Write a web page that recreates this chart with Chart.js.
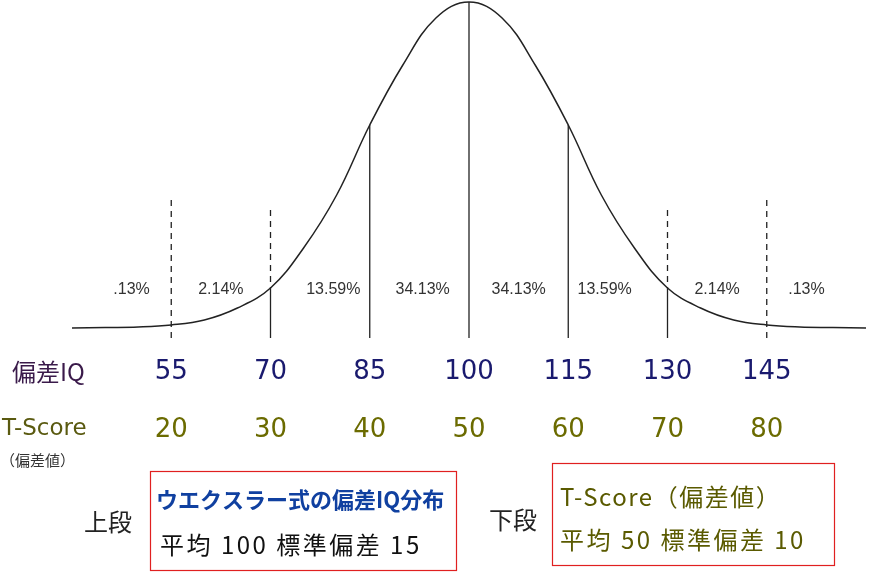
<!DOCTYPE html>
<html><head><meta charset="utf-8">
<script src="https://cdn.jsdelivr.net/npm/chart.js@4"></script>
<style>html,body{margin:0;padding:0;background:#fff}#c{display:block}</style>
</head><body>
<div style="width:870px;height:572px"><canvas id="c"></canvas></div>
<script>
/* Datos de la curva (偏差IQ y altura) */
var iqValues = [40,45,50,55,60,65,70,75,80,85,90,95,100,105,110,115,120,125,130,135,140,145,150,155,160];
var curveHeights = [2,2.5,3,5,10,22,42,82,135,205,265,312,328,312,265,205,135,82,42,22,10,5,3,2.5,2];
var iqTicks = [55,70,85,100,115,130,145];
var tScoreTicks = [20,30,40,50,60,70,80];
var solidLines = [70,85,100,115,130];
var dashedLines = [55,70,130,145];
var dashedTops = [130,120,120,130];
var pctLabels = ['.13%','2.14%','13.59%','34.13%','34.13%','13.59%','2.14%','.13%'];
var pctCenters = [49,62.5,79.5,93,107.5,120.5,137.5,151];

function curveAt(iq) {
    return curveHeights[iqValues.indexOf(iq)];
}

function spacedText(ctx, t, x, y, sp) {
    ctx.letterSpacing = sp + 'px';
    ctx.fillText(t, x, y);
    ctx.letterSpacing = '0px';
}

var overlay = {
    id: 'overlay',
    afterDatasetsDraw: function (chart) {
        var ctx = chart.ctx, x = chart.scales.x, y = chart.scales.y;
        ctx.save();
        ctx.strokeStyle = '#222';
        ctx.lineWidth = 1.3;
        /* líneas verticales sólidas hasta la curva */
        solidLines.forEach(function (v) {
            ctx.beginPath();
            ctx.moveTo(x.getPixelForValue(v), y.getPixelForValue(-8));
            ctx.lineTo(x.getPixelForValue(v), y.getPixelForValue(curveAt(v)));
            ctx.stroke();
        });
        /* líneas discontinuas */
        ctx.setLineDash([6, 5]);
        dashedLines.forEach(function (v, i) {
            var bottom = solidLines.indexOf(v) >= 0 ? curveAt(v) : -8;
            ctx.beginPath();
            ctx.moveTo(x.getPixelForValue(v), y.getPixelForValue(dashedTops[i]));
            ctx.lineTo(x.getPixelForValue(v), y.getPixelForValue(bottom));
            ctx.stroke();
        });
        ctx.setLineDash([]);
        ctx.textAlign = 'center';
        ctx.textBaseline = 'middle';
        ctx.fillStyle = '#333';
        ctx.font = '16px Arial, "Liberation Sans"';
        pctLabels.forEach(function (t, i) {
            ctx.fillText(t, x.getPixelForValue(pctCenters[i]), y.getPixelForValue(40));
        });
        /* filas de valores */
        ctx.font = '26px "DejaVu Sans"';
        ctx.fillStyle = '#1a1a6e';
        iqTicks.forEach(function (v) {
            ctx.fillText(String(v), x.getPixelForValue(v), y.getPixelForValue(-42));
        });
        ctx.fillStyle = '#6b6b00';
        tScoreTicks.forEach(function (v, i) {
            ctx.fillText(String(v), x.getPixelForValue(iqTicks[i]), y.getPixelForValue(-100));
        });
        ctx.textAlign = 'left';
        ctx.font = '24px "Noto Sans CJK JP"';
        ctx.fillStyle = '#3a1a4a';
        ctx.fillText('偏差IQ', 12, 372);
        ctx.fillStyle = '#5a5a10';
        ctx.font = '23px "DejaVu Sans"';
        ctx.fillText('T-Score', 2, 429);
        ctx.fillStyle = '#333';
        ctx.font = '15px "Noto Sans CJK JP"';
        ctx.fillText('（偏差値）', 0, 460);
        ctx.font = '24px "Noto Sans CJK JP"';
        ctx.fillStyle = '#222';
        ctx.fillText('上段', 84, 522);
        ctx.fillText('下段', 489, 520);
        /* recuadros */
        ctx.strokeStyle = '#e02020';
        ctx.lineWidth = 1.2;
        ctx.strokeRect(150.5, 471.5, 306, 99);
        ctx.strokeRect(552.5, 463.5, 282, 102);
        ctx.fillStyle = '#1040a0';
        ctx.font = 'bold 22px "Noto Sans CJK JP"';
        ctx.fillText('ウエクスラー式の偏差IQ分布', 156, 500);
        ctx.fillStyle = '#111';
        ctx.font = '24px "Noto Sans CJK JP"';
        spacedText(ctx, '平均 100 標準偏差 15', 160, 545, 2.5);
        ctx.fillStyle = '#5a5a00';
        spacedText(ctx, 'T-Score（偏差値）', 560, 497, 1.5);
        spacedText(ctx, '平均 50 標準偏差 10', 560, 540, 2.5);
        ctx.restore();
    }
};

new Chart(document.getElementById('c'), {
    type: 'line',
    data: {
        datasets: [{
            data: iqValues.map(function (v, i) { return { x: v, y: curveHeights[i] }; }),
            borderColor: '#222',
            borderWidth: 1.5,
            tension: 0.4,
            pointRadius: 0,
            fill: false
        }]
    },
    options: {
        responsive: true,
        maintainAspectRatio: false,
        animation: false,
        layout: { padding: { left: 72, right: 4, top: 0, bottom: 0 } },
        plugins: { legend: { display: false }, tooltip: { enabled: false } },
        scales: {
            x: { type: 'linear', min: 40, max: 160, display: false },
            y: { min: -242, max: 330, display: false }
        }
    },
    plugins: [overlay]
});
</script>
</body></html>
